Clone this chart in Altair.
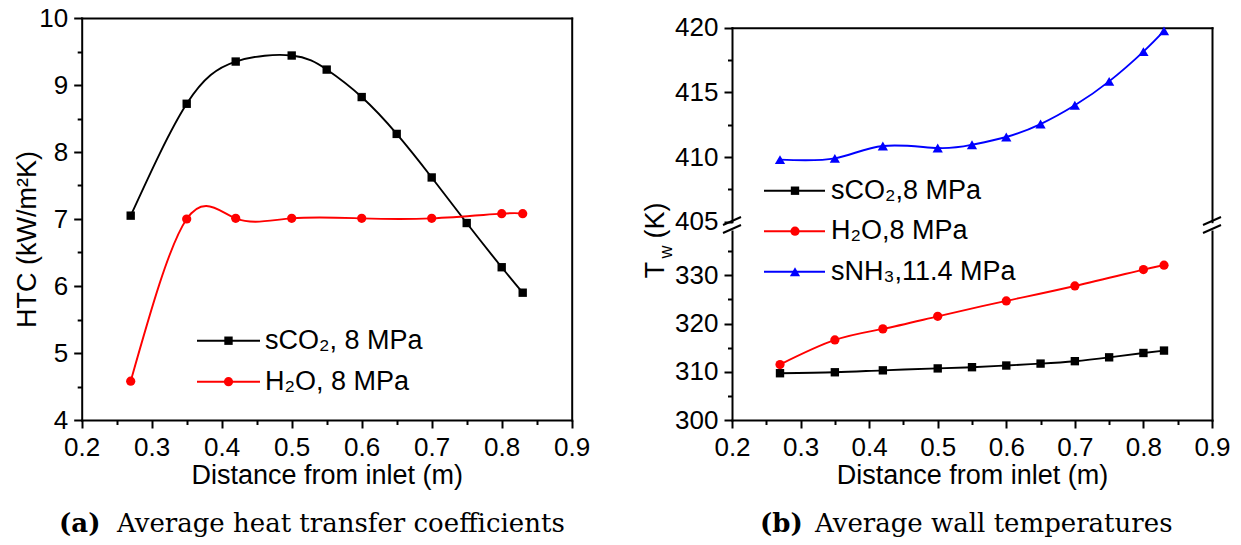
import altair as alt
import pandas as pd

# ---------------- data ----------------
htc_x_sco2 = [0.27, 0.35, 0.42, 0.50, 0.55, 0.60, 0.65, 0.70, 0.75, 0.80, 0.83]
htc_sco2 = [7.05, 8.72, 9.35, 9.44, 9.23, 8.82, 8.27, 7.62, 6.94, 6.28, 5.90]
htc_x_h2o = [0.27, 0.35, 0.42, 0.50, 0.60, 0.70, 0.80, 0.83]
htc_h2o = [4.58, 7.00, 7.01, 7.01, 7.01, 7.01, 7.08, 7.08]

tw_x_nh3 = [0.27, 0.35, 0.42, 0.50, 0.55, 0.60, 0.65, 0.70, 0.75, 0.80, 0.83]
tw_nh3 = [409.8, 409.9, 410.85, 410.7, 410.95, 411.55, 412.55, 414.0, 415.85, 418.15, 419.75]
tw_x_sco2 = [0.27, 0.35, 0.42, 0.50, 0.55, 0.60, 0.65, 0.70, 0.75, 0.80, 0.83]
tw_sco2 = [309.7, 309.9, 310.3, 310.7, 310.95, 311.3, 311.7, 312.2, 313.0, 313.9, 314.4]
tw_x_h2o = [0.27, 0.35, 0.42, 0.50, 0.60, 0.70, 0.80, 0.83]
tw_h2o = [311.5, 316.6, 318.9, 321.5, 324.7, 327.8, 331.2, 332.1]

x_major = [0.2, 0.3, 0.4, 0.5, 0.6, 0.7, 0.8, 0.9]
x_minor = [0.25, 0.35, 0.45, 0.55, 0.65, 0.75, 0.85]
htc_major = [4, 5, 6, 7, 8, 9, 10]
htc_minor = [4.5, 5.5, 6.5, 7.5, 8.5, 9.5]
tw_top_major = [405, 410, 415, 420]
tw_top_minor = [407.5, 412.5, 417.5]
tw_bot_major = [300, 310, 320, 330]
tw_bot_minor = [305, 315, 325, 335]

legend_left = ["sCO\u2082, 8 MPa", "H\u2082O, 8 MPa"]
legend_right = ["sCO\u2082,8 MPa", "H\u2082O,8 MPa", "sNH\u2083,11.4 MPa"]
x_title = "Distance from inlet (m)"
htc_title = "HTC (kW/m\u00b2K)"
caption_a = ("(a)", "Average heat transfer coefficients")
caption_b = ("(b)", "Average wall temperatures")

# ---------------- styling / layout ----------------
W, H = 1241, 545
BLACK, RED, BLUE = "#000000", "#ff0000", "#0000ff"
SANS = "Liberation Sans"
SERIF = "DejaVu Serif"
LW = 1.9
SQ, CI, TR = 70, 85, 105

# plot-area pixel frames
L_X0, L_X1, L_Y0, L_Y1 = 81.7, 571.7, 18.0, 420.0
R_X0, R_X1 = 732.0, 1212.0
RT_Y0, RT_Y1 = 27.7, 221.7
RB_Y0, RB_Y1 = 231.0, 420.0

LX = alt.Scale(domain=[0.2, 0.9], range=[L_X0, L_X1], nice=False, zero=False)
LY = alt.Scale(domain=[4, 10], range=[L_Y1, L_Y0], nice=False, zero=False)
RX = alt.Scale(domain=[0.2, 0.9], range=[R_X0, R_X1], nice=False, zero=False)
RYT = alt.Scale(domain=[405, 420], range=[RT_Y1, RT_Y0], nice=False, zero=False)
RYB = alt.Scale(domain=[300, 339.2], range=[RB_Y1, RB_Y0], nice=False, zero=False)


def ax(orient, offset, values=None, labels=False, ticks=False, domain=False,
       tsize=8, title=None, expr=None, **extra):
    d = dict(orient=orient, offset=offset, grid=False, labels=labels, ticks=ticks,
             domain=domain, domainColor=BLACK, domainWidth=2, domainCap="square",
             tickColor=BLACK, tickWidth=2, tickSize=tsize,
             labelFont=SANS, labelFontSize=26, labelColor=BLACK, labelPadding=6,
             labelFlush=False, labelOverlap=False,
             titleFont=SANS, titleFontSize=27, titleColor=BLACK,
             titleFontWeight="normal", title=title)
    if values is not None:
        d["values"] = values
    if expr is not None:
        d["labelExpr"] = expr
    d.update(extra)
    return alt.Axis(**d)


def frame(xs, ys):
    return pd.DataFrame({"x": xs, "y": ys})


def line(df, xs, ys, color, xaxis=None, yaxis=None):
    return alt.Chart(df).mark_line(color=color, strokeWidth=LW, interpolate="natural").encode(
        x=alt.X("x:Q", scale=xs, axis=xaxis), y=alt.Y("y:Q", scale=ys, axis=yaxis))


def pts(df, xs, ys, color, shape, size, xaxis=None, yaxis=None, opacity=1):
    return alt.Chart(df).mark_point(shape=shape, filled=True, color=color, size=size,
                                    opacity=opacity).encode(
        x=alt.X("x:Q", scale=xs, axis=xaxis), y=alt.Y("y:Q", scale=ys, axis=yaxis))


one = pd.DataFrame({"a": [0]})


def txt(s, x, y, size=27, font=SANS, weight="normal", angle=0, align="left",
        baseline="middle"):
    return alt.Chart(one).mark_text(text=s, font=font, fontSize=size, fontWeight=weight,
                                    angle=angle, align=align, baseline=baseline,
                                    color=BLACK).encode(x=alt.value(x), y=alt.value(y))


def seg(x1, y1, x2, y2, color=BLACK, w=LW):
    return alt.Chart(one).mark_rule(color=color, strokeWidth=w).encode(
        x=alt.value(x1), y=alt.value(y1), x2=alt.value(x2), y2=alt.value(y2))


def mark(x, y, color, shape, size):
    return alt.Chart(one).mark_point(shape=shape, filled=True, color=color, size=size,
                                     opacity=1).encode(x=alt.value(x), y=alt.value(y))


XFMT = "format(datum.value, '.1f')"
IFMT = "format(datum.value, 'd')"

d_l_co2 = frame(htc_x_sco2, htc_sco2)
d_l_h2o = frame(htc_x_h2o, htc_h2o)
d_r_nh3 = frame(tw_x_nh3, tw_nh3)
d_r_co2 = frame(tw_x_sco2, tw_sco2)
d_r_h2o = frame(tw_x_h2o, tw_h2o)

layers = []

# ---------- panel (a) ----------
layers.append(line(d_l_co2, LX, LY, BLACK,
                   xaxis=ax("bottom", L_Y1 - H, x_major, labels=True, ticks=True, domain=True,
                            title=x_title, expr=XFMT, titleY=63, titleBaseline="alphabetic"),
                   yaxis=ax("left", -L_X0, htc_major, labels=True, ticks=True, domain=True,
                            title=htc_title, expr=IFMT, titleAngle=270, titleX=-54, titleY=239,
                            titleAlign="center", titleBaseline="middle")))
layers.append(pts(d_l_co2, LX, LY, BLACK, "square", SQ,
                  xaxis=ax("bottom", L_Y1 - H, x_minor, ticks=True, tsize=4.5),
                  yaxis=ax("left", -L_X0, htc_minor, ticks=True, tsize=4.5)))
layers.append(line(d_l_h2o, LX, LY, RED,
                   xaxis=ax("top", -L_Y0, x_major, domain=True),
                   yaxis=ax("right", L_X1 - W, htc_major, domain=True)))
layers.append(pts(d_l_h2o, LX, LY, RED, "circle", CI))

# legend (a)
for i, (lab, col, shp, sz) in enumerate(zip(legend_left, [BLACK, RED], ["square", "circle"], [SQ, CI])):
    yy = 340.7 + 41 * i
    layers += [seg(197, yy, 260, yy, col), mark(228.5, yy, col, shp, sz), txt(lab, 265, yy)]

# ---------- panel (b): upper segment ----------
layers.append(line(d_r_nh3, RX, RYT, BLUE,
                   xaxis=ax("top", -RT_Y0, x_major, domain=True),
                   yaxis=ax("left", -R_X0, tw_top_major, labels=True, ticks=True, domain=True,
                            expr=IFMT)))
layers.append(pts(d_r_nh3, RX, RYT, BLUE, "triangle-up", TR,
                  yaxis=ax("left", -R_X0, tw_top_minor, ticks=True, tsize=4.5)))
layers.append(pts(d_r_nh3, RX, RYT, BLUE, "circle", 10, opacity=0,
                  yaxis=ax("right", R_X1 - W, tw_top_major, domain=True)))

# ---------- panel (b): lower segment ----------
layers.append(line(d_r_co2, RX, RYB, BLACK,
                   xaxis=ax("bottom", RB_Y1 - H, x_major, labels=True, ticks=True, domain=True,
                            title=x_title, expr=XFMT, titleY=63, titleBaseline="alphabetic"),
                   yaxis=ax("left", -R_X0, tw_bot_major, labels=True, ticks=True, domain=True,
                            expr=IFMT)))
layers.append(pts(d_r_co2, RX, RYB, BLACK, "square", SQ,
                  xaxis=ax("bottom", RB_Y1 - H, x_minor, ticks=True, tsize=4.5),
                  yaxis=ax("left", -R_X0, tw_bot_minor, ticks=True, tsize=4.5)))
layers.append(line(d_r_h2o, RX, RYB, RED,
                   yaxis=ax("right", R_X1 - W, tw_bot_major, domain=True)))
layers.append(pts(d_r_h2o, RX, RYB, RED, "circle", CI))

# axis break marks
for bx in (R_X0, R_X1):
    layers.append(seg(bx - 9, 225, bx + 9, 217, BLACK, 2))
    layers.append(seg(bx - 9, 233, bx + 9, 225, BLACK, 2))

# legend (b)
for i, (lab, col, shp, sz) in enumerate(zip(legend_right, [BLACK, RED, BLUE],
                                            ["square", "circle", "triangle-up"], [SQ, CI, TR])):
    yy = 190.7 + 40.5 * i
    layers += [seg(764, yy, 825, yy, col), mark(795, yy, col, shp, sz), txt(lab, 831, yy)]

# y title of panel (b): T with subscript w
layers.append(txt("T", 663.6, 278.3, size=27, angle=270, baseline="alphabetic"))
layers.append(txt("w", 671.5, 258.5, size=18, angle=270, baseline="alphabetic"))
layers.append(txt("(K)", 663.6, 238.5, size=27, angle=270, baseline="alphabetic"))

# captions
layers.append(txt(caption_a[0], 59, 532, size=26, font=SERIF, weight="bold", baseline="alphabetic"))
layers.append(txt(caption_a[1], 117, 532, size=26, font=SERIF, baseline="alphabetic"))
layers.append(txt(caption_b[0], 760, 532, size=26, font=SERIF, weight="bold", baseline="alphabetic"))
layers.append(txt(caption_b[1], 815, 532, size=26, font=SERIF, baseline="alphabetic"))

chart = alt.layer(*layers).resolve_scale(x="independent", y="independent").properties(
    width=W, height=H, autosize=alt.AutoSizeParams(type="none"), padding=0,
    background="white"
).configure_view(strokeWidth=0)

chart.save("out.html", embed_options={"renderer": "svg", "actions": False})
